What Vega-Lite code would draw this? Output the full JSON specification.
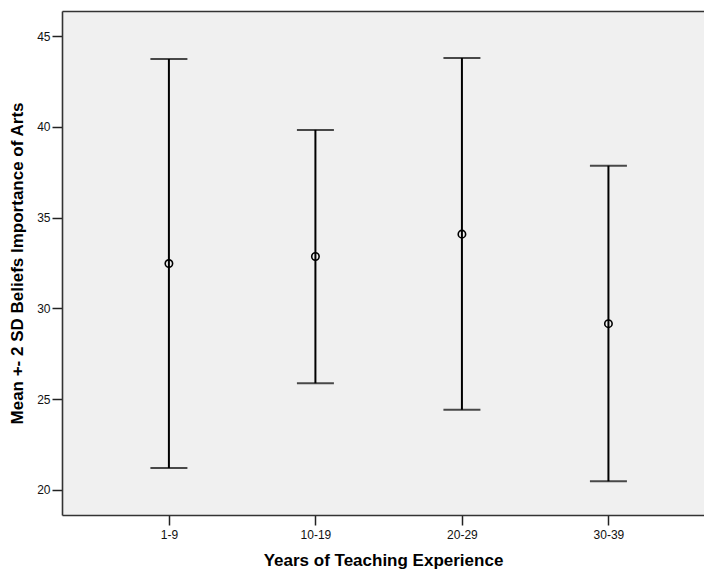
{
  "$schema": "https://vega.github.io/schema/vega-lite/v6.json",
  "autosize": "none",
  "width": 642,
  "height": 504,
  "padding": {"left": 62, "top": 11, "right": 0, "bottom": 56},
  "background": "#ffffff",
  "config": {
    "font": "Liberation Sans",
    "view": {"fill": "#f0f0f0", "stroke": null},
    "axis": {
      "labelFont": "Liberation Sans",
      "labelFontSize": 12,
      "labelColor": "#111111",
      "titleFont": "Liberation Sans",
      "titleFontSize": 17,
      "titleFontWeight": "bold",
      "titleColor": "#000000",
      "tickColor": "#222222",
      "tickWidth": 1.5,
      "tickSize": 10,
      "domainColor": "#333333",
      "domainWidth": 1.6,
      "grid": false
    }
  },
  "data": {
    "values": [
      {"years": "1-9", "mean": 32.47, "lower": 21.21, "upper": 43.73},
      {"years": "10-19", "mean": 32.86, "lower": 25.88, "upper": 39.83},
      {"years": "20-29", "mean": 34.09, "lower": 24.42, "upper": 43.79},
      {"years": "30-39", "mean": 29.16, "lower": 20.48, "upper": 37.85}
    ]
  },
  "resolve": {"axis": {"x": "independent", "y": "independent"}},
  "layer": [
    {
      "mark": {"type": "rule", "color": "#000000", "strokeWidth": 2},
      "encoding": {
        "x": {
          "field": "years",
          "type": "ordinal",
          "sort": ["1-9", "10-19", "20-29", "30-39"],
          "scale": {"type": "point", "padding": 0.691, "align": 0.528},
          "axis": {"orient": "bottom", "title": "Years of Teaching Experience", "labelAngle": 0, "labelPadding": 4, "titlePadding": 12}
        },
        "y": {
          "field": "lower",
          "type": "quantitative",
          "scale": {"domain": [18.623, 46.377], "nice": false, "zero": false},
          "axis": {"title": "Mean +- 2 SD Beliefs Importance of Arts", "values": [20, 25, 30, 35, 40, 45], "labelPadding": 2, "titlePadding": 10}
        },
        "y2": {"field": "upper"}
      }
    },
    {
      "mark": {"type": "tick", "color": "#000000", "size": 37, "thickness": 2},
      "encoding": {
        "x": {"field": "years", "type": "ordinal", "sort": ["1-9", "10-19", "20-29", "30-39"], "axis": null},
        "y": {"field": "lower", "type": "quantitative", "axis": null}
      }
    },
    {
      "mark": {"type": "tick", "color": "#000000", "size": 37, "thickness": 2},
      "encoding": {
        "x": {
          "field": "years",
          "type": "ordinal",
          "sort": ["1-9", "10-19", "20-29", "30-39"],
          "axis": {"orient": "top", "labels": false, "ticks": false, "title": null}
        },
        "y": {"field": "upper", "type": "quantitative", "axis": null}
      }
    },
    {
      "mark": {"type": "point", "shape": "circle", "filled": false, "color": "#000000", "size": 55, "strokeWidth": 1.6, "opacity": 1},
      "encoding": {
        "x": {"field": "years", "type": "ordinal", "sort": ["1-9", "10-19", "20-29", "30-39"], "axis": null},
        "y": {"field": "mean", "type": "quantitative", "axis": null}
      }
    }
  ]
}
